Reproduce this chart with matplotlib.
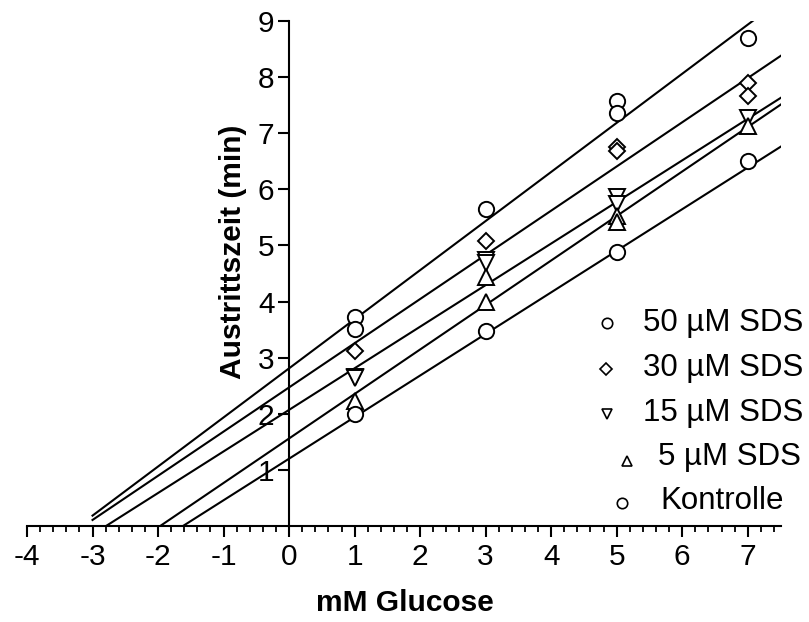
import numpy as np
import matplotlib
matplotlib.use("Agg")
import matplotlib.pyplot as plt
from matplotlib.lines import Line2D
from matplotlib.ticker import MultipleLocator

plt.rcParams['font.family'] = ['Liberation Sans', 'DejaVu Sans']
plt.rcParams['axes.unicode_minus'] = False

# Measured retention times (min) versus glucose concentration (mM)
series_names = ["50 µM SDS", "30 µM SDS", "15 µM SDS", "5 µM SDS", "Kontrolle"]

sds50_x = [1, 1, 3, 5, 5, 7]
sds50_y = [3.73, 3.51, 5.65, 7.58, 7.36, 8.70]

sds30_x = [1, 3, 5, 5, 7, 7]
sds30_y = [3.11, 5.08, 6.75, 6.68, 7.90, 7.67]

sds15_x = [1, 1, 3, 3, 5, 5, 7]
sds15_y = [2.66, 2.64, 4.74, 4.68, 5.87, 5.74, 7.27]

sds5_x = [1, 3, 3, 5, 5, 7]
sds5_y = [2.22, 4.43, 4.00, 5.52, 5.42, 7.13]

kontrolle_x = [1, 3, 5, 7]
kontrolle_y = [1.99, 3.48, 4.88, 6.50]

# Linear fit parameters (slope, intercept) of each series
fit_slopes = [0.875, 0.7875, 0.741, 0.793, 0.741]
fit_intercepts = [2.81, 2.47, 2.07, 1.56, 1.20]

xs = [sds50_x, sds30_x, sds15_x, sds5_x, kontrolle_x]
ys = [sds50_y, sds30_y, sds15_y, sds5_y, kontrolle_y]
markers = ['o', 'D', 'v', '^', 'o']
msizes = [11, 8.5, 11, 11, 11]

W, H = 809, 622
fig = plt.figure(figsize=(W / 100, H / 100), dpi=100)

x0_px, x1_px = 27, 780.5
y0_px, y1_px = 526, 21
ax = fig.add_axes([x0_px / W, 1 - y0_px / H, (x1_px - x0_px) / W, (y0_px - y1_px) / H])
ax.set_xlim(-4, 7.5)
ax.set_ylim(0, 9)

# Fitted regression lines, starting at the x-intercept (but not left of -3)
for m, b in zip(fit_slopes, fit_intercepts):
    xstart = max(-3.0, -b / m)
    xl = np.array([xstart, 7.7])
    ax.plot(xl, m * xl + b, color='black', lw=1.5, zorder=2)

for x, y, mk, ms in zip(xs, ys, markers, msizes):
    ax.plot(x, y, linestyle='none', marker=mk, markersize=ms,
            markerfacecolor='white', markeredgecolor='black',
            markeredgewidth=1.4, zorder=3, clip_on=False)

# Axes crossing at the origin
for side in ('top', 'right'):
    ax.spines[side].set_visible(False)
ax.spines['left'].set_position(('data', 0))
ax.spines['bottom'].set_position(('data', 0))
ax.spines['left'].set_linewidth(1.5)
ax.spines['bottom'].set_linewidth(1.5)

ax.set_xticks(np.arange(-4, 8, 1))
ax.xaxis.set_minor_locator(MultipleLocator(0.2))
ax.set_yticks(np.arange(1, 10, 1))
ax.tick_params(axis='x', which='major', direction='out', length=8, width=1.5,
               labelsize=21.5, pad=4)
ax.tick_params(axis='x', which='minor', direction='out', length=4.5, width=1.3)
ax.tick_params(axis='y', which='major', direction='out', length=8, width=1.5,
               labelsize=21.5, pad=2.5)

fig.text(405 / W, 1 - 603 / H, "mM Glucose", fontsize=21.5, fontweight='bold',
         ha='center', va='center')
fig.text(233 / W, 1 - 252 / H, "Austrittszeit (min)", fontsize=21.5,
         fontweight='bold', rotation=90, ha='center', va='center')

# Legend entries
leg_marker_px = [(607, 323), (606, 369), (607, 414), (627, 461), (622, 503)]
leg_text_px = [(643, 323), (643, 368), (643, 413), (658, 457), (660, 501)]
leg_msizes = [7.5, 6, 7.5, 7.5, 7.5]
for name, mk, ms, (mx, my), (tx, ty) in zip(series_names, markers, leg_msizes,
                                             leg_marker_px, leg_text_px):
    fig.add_artist(Line2D([mx / W], [1 - my / H], transform=fig.transFigure,
                          marker=mk, markersize=ms, markerfacecolor='white',
                          markeredgecolor='black', markeredgewidth=1.2,
                          linestyle='none'))
    fig.text(tx / W, 1 - ty / H, name, fontsize=22.5, ha='left', va='center')

fig.savefig("out.png", dpi=100)
